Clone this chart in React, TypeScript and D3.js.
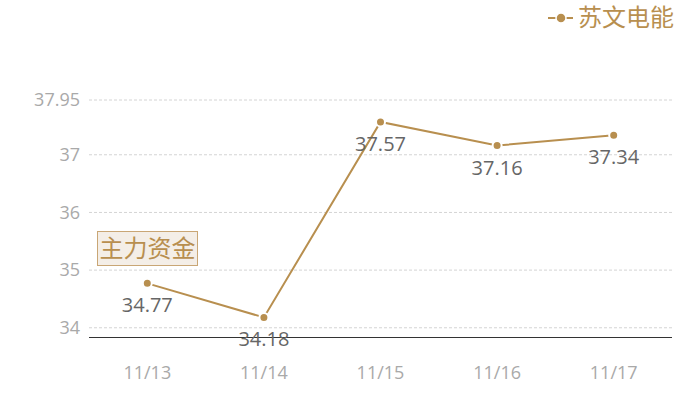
import * as d3 from 'd3';

const dates = ['11/13', '11/14', '11/15', '11/16', '11/17'];
const prices = [34.77, 34.18, 37.57, 37.16, 37.34];
const yTicks = [34, 35, 36, 37, 37.95];
const yMin = 33.84;
const yMax = 37.95;
const seriesName = '苏文电能';
const tagText = '主力资金';

const width = 700;
const height = 400;
const margin = { top: 100, right: 28, bottom: 63, left: 89 };
const gold = '#b88f4f';
const numFont = '"Open Sans", "Noto Sans CJK SC", sans-serif';
const cjkFont = '"Noto Sans CJK SC", sans-serif';

export default function App() {
  const innerW = width - margin.left - margin.right;
  const x = d3.scaleBand<string>().domain(dates).range([margin.left, margin.left + innerW]);
  const y = d3.scaleLinear().domain([yMin, yMax]).range([height - margin.bottom, margin.top]);
  const cx = (d: string) => (x(d) ?? 0) + x.bandwidth() / 2;

  const line = d3
    .line<number>()
    .x((_, i) => cx(dates[i]))
    .y((v) => y(v));

  return (
    <svg
      width={width}
      height={height}
      style={{ position: 'absolute', left: 0, top: 0, fontFamily: numFont }}
    >
      {/* grid + y labels */}
      {yTicks.map((t) => (
        <g key={t}>
          <line
            x1={margin.left}
            x2={margin.left + innerW}
            y1={y(t)}
            y2={y(t)}
            stroke="#d4d4d4"
            strokeDasharray="3,2"
          />
          <text
            x={margin.left - 9}
            y={y(t)}
            dy="0.35em"
            textAnchor="end"
            fontSize={18}
            fill="#a9a9a9"
          >
            {t}
          </text>
        </g>
      ))}

      {/* x axis */}
      <line
        x1={margin.left}
        x2={margin.left + innerW}
        y1={height - margin.bottom + 0.5}
        y2={height - margin.bottom + 0.5}
        stroke="#333"
      />
      {dates.map((d) => (
        <text key={d} x={cx(d)} y={373} dy="0.35em" textAnchor="middle" fontSize={18} fill="#a9a9a9">
          {d}
        </text>
      ))}

      {/* series */}
      <path d={line(prices) ?? ''} fill="none" stroke={gold} strokeWidth={2} />
      {prices.map((v, i) => (
        <g key={i}>
          <circle cx={cx(dates[i])} cy={y(v)} r={4.5} fill={gold} stroke="#fff" strokeWidth={2} />
          <text
            x={cx(dates[i])}
            y={y(v) + 22}
            dy="0.35em"
            textAnchor="middle"
            fontSize={20}
            fill="#666"
          >
            {v.toFixed(2)}
          </text>
        </g>
      ))}

      {/* tag box */}
      <rect x={97.5} y={231.5} width={100} height={34} fill="#f4eee7" stroke="#c9a675" />
      <text
        x={147.5}
        y={249}
        dy="0.35em"
        textAnchor="middle"
        fontSize={24}
        fill={gold}
        fontFamily={cjkFont}
      >
        {tagText}
      </text>

      {/* legend */}
      <line x1={548} x2={573} y1={18} y2={18} stroke={gold} strokeWidth={2} />
      <circle cx={561} cy={18} r={5} fill={gold} stroke="#fff" strokeWidth={1.5} />
      <text x={578} y={18} dy="0.35em" fontSize={24} fill={gold} fontFamily={cjkFont}>
        {seriesName}
      </text>
    </svg>
  );
}
